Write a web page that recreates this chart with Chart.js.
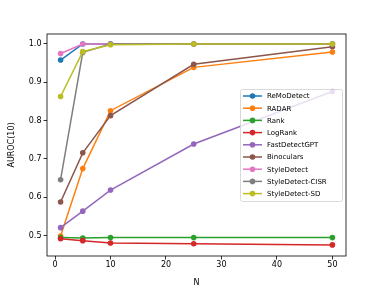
<!DOCTYPE html>
<html>
<head>
<meta charset="utf-8">
<script src="https://cdn.jsdelivr.net/npm/chart.js@4.4.1/dist/chart.umd.min.js"></script>
<style>
  html, body { margin: 0; padding: 0; background: #fff; }
  #wrap { width: 384px; height: 288px; }
</style>
</head>
<body>
<div id="wrap"><canvas id="chart" width="384" height="288"></canvas></div>
<script>
// ── data ──────────────────────────────────────────────
const nValues = [1, 5, 10, 25, 50];
const seriesNames = [
  "ReMoDetect", "RADAR", "Rank", "LogRank", "FastDetectGPT",
  "Binoculars", "StyleDetect", "StyleDetect-CISR", "StyleDetect-SD"
];
const remoDetect      = [0.958, 1.000, 1.000, 1.000, 1.000];
const radar           = [0.499, 0.675, 0.826, 0.939, 0.979];
const rank            = [0.495, 0.494, 0.495, 0.495, 0.495];
const logRank         = [0.492, 0.487, 0.481, 0.479, 0.476];
const fastDetectGPT   = [0.521, 0.564, 0.619, 0.739, 0.876];
const binoculars      = [0.588, 0.716, 0.813, 0.947, 0.993];
const styleDetect     = [0.975, 1.000, 1.000, 1.000, 1.000];
const styleDetectCISR = [0.646, 0.978, 1.000, 1.000, 1.000];
const styleDetectSD   = [0.863, 0.980, 0.998, 1.000, 1.000];
const xTicks = [0, 10, 20, 30, 40, 50];
const yTicks = [0.5, 0.6, 0.7, 0.8, 0.9, 1.0];

const colors = ["#1f77b4", "#ff7f0e", "#2ca02c", "#d62728", "#9467bd",
                "#8c564b", "#e377c2", "#7f7f7f", "#bcbd22"];
const allSeries = [remoDetect, radar, rank, logRank, fastDetectGPT,
                   binoculars, styleDetect, styleDetectCISR, styleDetectSD];

const FONT = "DejaVu Sans";
const FS = 8;      // tick / axis label size
const LFS = 7;     // legend text size

// ── plugins ───────────────────────────────────────────
// matplotlib-style frame around the plot area
const framePlugin = {
  id: "frame",
  afterDatasetsDraw(chart) {
    const { ctx, chartArea: a } = chart;
    ctx.save();
    ctx.strokeStyle = "#000";
    ctx.lineWidth = 0.8;
    ctx.strokeRect(a.left, a.top, a.right - a.left, a.bottom - a.top);
    ctx.restore();
  }
};

// legend drawn inside the axes, right side
const legendPlugin = {
  id: "innerLegend",
  afterDraw(chart) {
    const { ctx } = chart;
    const x0 = 240, y0 = 89, w = 102, h = 112, rowH = 12.2;
    ctx.save();
    ctx.fillStyle = "rgba(255,255,255,0.8)";
    ctx.strokeStyle = "#d0d0d0";
    ctx.lineWidth = 0.8;
    ctx.beginPath();
    ctx.roundRect(x0 + 0.5, y0 + 0.5, w, h, 2);
    ctx.fill();
    ctx.stroke();
    ctx.font = `${LFS}px "${FONT}"`;
    ctx.textBaseline = "middle";
    chart.data.datasets.forEach((ds, i) => {
      const y = y0 + 7 + i * rowH;
      ctx.strokeStyle = ds.borderColor;
      ctx.lineWidth = 1.5;
      ctx.beginPath();
      ctx.moveTo(243, y);
      ctx.lineTo(262, y);
      ctx.stroke();
      ctx.fillStyle = ds.borderColor;
      ctx.beginPath();
      ctx.arc(252.5, y, 2.8, 0, Math.PI * 2);
      ctx.fill();
      ctx.fillStyle = "#000";
      ctx.fillText(ds.label, 267, y + 0.5);
    });
    ctx.restore();
  }
};

// ── chart ─────────────────────────────────────────────
const datasets = seriesNames.map((name, i) => ({
  label: name,
  data: nValues.map((n, j) => ({ x: n, y: allSeries[i][j] })),
  borderColor: colors[i],
  backgroundColor: colors[i],
  borderWidth: 1.5,
  pointRadius: 2.8,
  pointHoverRadius: 2.8,
  pointBorderWidth: 0,
  order: seriesNames.length - i,   // later series on top, like matplotlib
  tension: 0
}));

new Chart(document.getElementById("chart"), {
  type: "line",
  data: { datasets },
  options: {
    responsive: false,
    animation: false,
    events: [],
    layout: { padding: { top: 34, right: 38, left: 0, bottom: 0 } },
    plugins: { legend: { display: false }, tooltip: { enabled: false } },
    scales: {
      x: {
        type: "linear",
        min: -1.45,
        max: 52.45,
        afterBuildTicks: (s) => { s.ticks = xTicks.map(v => ({ value: v })); },
        afterFit: (s) => { s.height = 32; },
        grid: { drawOnChartArea: false, drawTicks: true, tickLength: 3.5, color: "#000", lineWidth: 0.8 },
        border: { display: false },
        ticks: { color: "#000", font: { family: FONT, size: FS }, padding: 1, maxRotation: 0 },
        title: { display: true, text: "N", color: "#000", font: { family: FONT, size: FS }, padding: { top: 1, bottom: 0 } }
      },
      y: {
        type: "linear",
        min: 0.447,
        max: 1.026,
        afterBuildTicks: (s) => { s.ticks = yTicks.map(v => ({ value: v })); },
        afterFit: (s) => { s.width = 47; },
        grid: { drawOnChartArea: false, drawTicks: true, tickLength: 3.5, color: "#000", lineWidth: 0.8 },
        border: { display: false },
        ticks: { color: "#000", font: { family: FONT, size: FS }, padding: 2, callback: (v) => v.toFixed(1) },
        title: { display: true, text: "AUROC(10)", color: "#000", font: { family: FONT, size: FS }, padding: { top: 7, bottom: 0 } }
      }
    }
  },
  plugins: [framePlugin, legendPlugin]
});
</script>
</body>
</html>
